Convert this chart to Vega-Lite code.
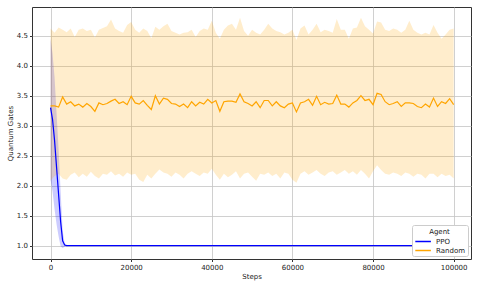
{
  "$schema": "https://vega.github.io/schema/vega-lite/v6.json",
  "autosize": "none",
  "width": 439,
  "height": 252,
  "padding": {"left": 32, "top": 7, "right": 7, "bottom": 28},
  "background": "white",
  "config": {
    "font": "DejaVu Sans",
    "view": {"stroke": "#333333", "strokeWidth": 1},
    "axis": {
      "domain": false,
      "grid": true,
      "gridColor": "#c4c4c4",
      "gridWidth": 0.8,
      "tickColor": "#333333",
      "tickSize": 2.5,
      "labelFont": "DejaVu Sans",
      "labelFontSize": 7,
      "labelColor": "#222222",
      "labelPadding": 2,
      "titleFont": "DejaVu Sans",
      "titleFontSize": 7,
      "titleFontWeight": "normal",
      "titleColor": "#222222"
    },
    "legend": {
      "labelFont": "DejaVu Sans", "labelFontSize": 7, "labelColor": "#222222",
      "titleFont": "DejaVu Sans", "titleFontSize": 7, "titleFontWeight": "normal", "titleColor": "#222222"
    }
  },
  "datasets": {
    "ppo": [
      {"Agent": "PPO", "step": 0, "mean": 3.3, "lo": 2.1, "hi": 4.45},
      {"Agent": "PPO", "step": 500, "mean": 3.1, "lo": 1.9, "hi": 4.2},
      {"Agent": "PPO", "step": 1000, "mean": 2.75, "lo": 1.6, "hi": 3.8},
      {"Agent": "PPO", "step": 1500, "mean": 2.3, "lo": 1.35, "hi": 3.2},
      {"Agent": "PPO", "step": 2000, "mean": 1.85, "lo": 1.15, "hi": 2.6},
      {"Agent": "PPO", "step": 2500, "mean": 1.4, "lo": 0.99, "hi": 1.9},
      {"Agent": "PPO", "step": 3000, "mean": 1.08, "lo": 0.96, "hi": 1.25},
      {"Agent": "PPO", "step": 3500, "mean": 1.01, "lo": 0.98, "hi": 1.04},
      {"Agent": "PPO", "step": 4000, "mean": 1.0, "lo": 0.99, "hi": 1.01},
      {"Agent": "PPO", "step": 5000, "mean": 1.0, "lo": 1.0, "hi": 1.0},
      {"Agent": "PPO", "step": 10000, "mean": 1.0, "lo": 1.0, "hi": 1.0},
      {"Agent": "PPO", "step": 20000, "mean": 1.0, "lo": 1.0, "hi": 1.0},
      {"Agent": "PPO", "step": 30000, "mean": 1.0, "lo": 1.0, "hi": 1.0},
      {"Agent": "PPO", "step": 40000, "mean": 1.0, "lo": 1.0, "hi": 1.0},
      {"Agent": "PPO", "step": 50000, "mean": 1.0, "lo": 1.0, "hi": 1.0},
      {"Agent": "PPO", "step": 60000, "mean": 1.0, "lo": 1.0, "hi": 1.0},
      {"Agent": "PPO", "step": 70000, "mean": 1.0, "lo": 1.0, "hi": 1.0},
      {"Agent": "PPO", "step": 80000, "mean": 1.0, "lo": 1.0, "hi": 1.0},
      {"Agent": "PPO", "step": 90000, "mean": 1.0, "lo": 1.0, "hi": 1.0},
      {"Agent": "PPO", "step": 100000, "mean": 1.0, "lo": 1.0, "hi": 1.0}
    ],
    "rnd": [
      {"Agent": "Random", "step": 0, "mean": 3.33, "lo": 2.08, "hi": 4.62},
      {"Agent": "Random", "step": 1000, "mean": 3.33, "lo": 2.16, "hi": 4.55},
      {"Agent": "Random", "step": 2000, "mean": 3.31, "lo": 2.2, "hi": 4.64},
      {"Agent": "Random", "step": 3000, "mean": 3.48, "lo": 2.12, "hi": 4.6},
      {"Agent": "Random", "step": 4000, "mean": 3.36, "lo": 2.1, "hi": 4.56},
      {"Agent": "Random", "step": 5000, "mean": 3.4, "lo": 2.18, "hi": 4.62},
      {"Agent": "Random", "step": 6000, "mean": 3.33, "lo": 2.22, "hi": 4.48},
      {"Agent": "Random", "step": 7000, "mean": 3.36, "lo": 2.14, "hi": 4.6},
      {"Agent": "Random", "step": 8000, "mean": 3.31, "lo": 2.2, "hi": 4.62},
      {"Agent": "Random", "step": 9000, "mean": 3.37, "lo": 2.15, "hi": 4.58},
      {"Agent": "Random", "step": 10000, "mean": 3.32, "lo": 2.23, "hi": 4.6},
      {"Agent": "Random", "step": 11000, "mean": 3.24, "lo": 2.16, "hi": 4.47},
      {"Agent": "Random", "step": 12000, "mean": 3.38, "lo": 2.12, "hi": 4.6},
      {"Agent": "Random", "step": 13000, "mean": 3.35, "lo": 2.2, "hi": 4.63},
      {"Agent": "Random", "step": 14000, "mean": 3.37, "lo": 2.18, "hi": 4.66},
      {"Agent": "Random", "step": 15000, "mean": 3.41, "lo": 2.24, "hi": 4.77},
      {"Agent": "Random", "step": 16000, "mean": 3.44, "lo": 2.17, "hi": 4.62},
      {"Agent": "Random", "step": 17000, "mean": 3.37, "lo": 2.2, "hi": 4.58},
      {"Agent": "Random", "step": 18000, "mean": 3.4, "lo": 2.15, "hi": 4.55},
      {"Agent": "Random", "step": 19000, "mean": 3.35, "lo": 2.22, "hi": 4.68},
      {"Agent": "Random", "step": 20000, "mean": 3.49, "lo": 2.18, "hi": 4.73},
      {"Agent": "Random", "step": 21000, "mean": 3.38, "lo": 2.2, "hi": 4.6},
      {"Agent": "Random", "step": 22000, "mean": 3.36, "lo": 2.1, "hi": 4.55},
      {"Agent": "Random", "step": 23000, "mean": 3.42, "lo": 2.06, "hi": 4.62},
      {"Agent": "Random", "step": 24000, "mean": 3.34, "lo": 2.18, "hi": 4.58},
      {"Agent": "Random", "step": 25000, "mean": 3.27, "lo": 2.12, "hi": 4.46},
      {"Agent": "Random", "step": 26000, "mean": 3.5, "lo": 2.2, "hi": 4.65},
      {"Agent": "Random", "step": 27000, "mean": 3.36, "lo": 2.27, "hi": 4.6},
      {"Agent": "Random", "step": 28000, "mean": 3.46, "lo": 2.22, "hi": 4.66},
      {"Agent": "Random", "step": 29000, "mean": 3.44, "lo": 2.2, "hi": 4.7},
      {"Agent": "Random", "step": 30000, "mean": 3.37, "lo": 2.15, "hi": 4.58},
      {"Agent": "Random", "step": 31000, "mean": 3.36, "lo": 2.22, "hi": 4.55},
      {"Agent": "Random", "step": 32000, "mean": 3.32, "lo": 2.18, "hi": 4.52},
      {"Agent": "Random", "step": 33000, "mean": 3.36, "lo": 2.12, "hi": 4.55},
      {"Agent": "Random", "step": 34000, "mean": 3.3, "lo": 2.2, "hi": 4.56},
      {"Agent": "Random", "step": 35000, "mean": 3.4, "lo": 2.24, "hi": 4.6},
      {"Agent": "Random", "step": 36000, "mean": 3.33, "lo": 2.2, "hi": 4.48},
      {"Agent": "Random", "step": 37000, "mean": 3.39, "lo": 2.16, "hi": 4.58},
      {"Agent": "Random", "step": 38000, "mean": 3.36, "lo": 2.22, "hi": 4.62},
      {"Agent": "Random", "step": 39000, "mean": 3.44, "lo": 2.2, "hi": 4.6},
      {"Agent": "Random", "step": 40000, "mean": 3.38, "lo": 2.28, "hi": 4.75},
      {"Agent": "Random", "step": 41000, "mean": 3.42, "lo": 2.18, "hi": 4.55},
      {"Agent": "Random", "step": 42000, "mean": 3.24, "lo": 2.1, "hi": 4.45},
      {"Agent": "Random", "step": 43000, "mean": 3.4, "lo": 2.2, "hi": 4.6},
      {"Agent": "Random", "step": 44000, "mean": 3.41, "lo": 2.14, "hi": 4.67},
      {"Agent": "Random", "step": 45000, "mean": 3.41, "lo": 2.18, "hi": 4.7},
      {"Agent": "Random", "step": 46000, "mean": 3.39, "lo": 2.24, "hi": 4.6},
      {"Agent": "Random", "step": 47000, "mean": 3.53, "lo": 2.12, "hi": 4.8},
      {"Agent": "Random", "step": 48000, "mean": 3.4, "lo": 2.2, "hi": 4.58},
      {"Agent": "Random", "step": 49000, "mean": 3.37, "lo": 2.22, "hi": 4.5},
      {"Agent": "Random", "step": 50000, "mean": 3.33, "lo": 2.15, "hi": 4.6},
      {"Agent": "Random", "step": 51000, "mean": 3.4, "lo": 2.08, "hi": 4.55},
      {"Agent": "Random", "step": 52000, "mean": 3.3, "lo": 2.2, "hi": 4.52},
      {"Agent": "Random", "step": 53000, "mean": 3.42, "lo": 2.18, "hi": 4.6},
      {"Agent": "Random", "step": 54000, "mean": 3.42, "lo": 2.22, "hi": 4.7},
      {"Agent": "Random", "step": 55000, "mean": 3.33, "lo": 2.16, "hi": 4.62},
      {"Agent": "Random", "step": 56000, "mean": 3.4, "lo": 2.2, "hi": 4.58},
      {"Agent": "Random", "step": 57000, "mean": 3.33, "lo": 2.12, "hi": 4.56},
      {"Agent": "Random", "step": 58000, "mean": 3.3, "lo": 2.22, "hi": 4.52},
      {"Agent": "Random", "step": 59000, "mean": 3.36, "lo": 2.2, "hi": 4.55},
      {"Agent": "Random", "step": 60000, "mean": 3.38, "lo": 2.1, "hi": 4.6},
      {"Agent": "Random", "step": 61000, "mean": 3.23, "lo": 2.05, "hi": 4.43},
      {"Agent": "Random", "step": 62000, "mean": 3.38, "lo": 2.2, "hi": 4.62},
      {"Agent": "Random", "step": 63000, "mean": 3.4, "lo": 2.24, "hi": 4.67},
      {"Agent": "Random", "step": 64000, "mean": 3.44, "lo": 2.18, "hi": 4.52},
      {"Agent": "Random", "step": 65000, "mean": 3.34, "lo": 2.22, "hi": 4.6},
      {"Agent": "Random", "step": 66000, "mean": 3.49, "lo": 2.26, "hi": 4.7},
      {"Agent": "Random", "step": 67000, "mean": 3.35, "lo": 2.2, "hi": 4.56},
      {"Agent": "Random", "step": 68000, "mean": 3.39, "lo": 2.16, "hi": 4.6},
      {"Agent": "Random", "step": 69000, "mean": 3.36, "lo": 2.22, "hi": 4.58},
      {"Agent": "Random", "step": 70000, "mean": 3.37, "lo": 2.24, "hi": 4.55},
      {"Agent": "Random", "step": 71000, "mean": 3.51, "lo": 2.18, "hi": 4.78},
      {"Agent": "Random", "step": 72000, "mean": 3.36, "lo": 2.22, "hi": 4.6},
      {"Agent": "Random", "step": 73000, "mean": 3.36, "lo": 2.26, "hi": 4.6},
      {"Agent": "Random", "step": 74000, "mean": 3.31, "lo": 2.2, "hi": 4.45},
      {"Agent": "Random", "step": 75000, "mean": 3.38, "lo": 2.24, "hi": 4.62},
      {"Agent": "Random", "step": 76000, "mean": 3.42, "lo": 2.18, "hi": 4.64},
      {"Agent": "Random", "step": 77000, "mean": 3.5, "lo": 2.26, "hi": 4.8},
      {"Agent": "Random", "step": 78000, "mean": 3.42, "lo": 2.2, "hi": 4.66},
      {"Agent": "Random", "step": 79000, "mean": 3.44, "lo": 2.12, "hi": 4.6},
      {"Agent": "Random", "step": 80000, "mean": 3.35, "lo": 2.24, "hi": 4.54},
      {"Agent": "Random", "step": 81000, "mean": 3.54, "lo": 2.34, "hi": 4.74},
      {"Agent": "Random", "step": 82000, "mean": 3.52, "lo": 2.26, "hi": 4.72},
      {"Agent": "Random", "step": 83000, "mean": 3.4, "lo": 2.2, "hi": 4.6},
      {"Agent": "Random", "step": 84000, "mean": 3.35, "lo": 2.18, "hi": 4.58},
      {"Agent": "Random", "step": 85000, "mean": 3.37, "lo": 2.22, "hi": 4.62},
      {"Agent": "Random", "step": 86000, "mean": 3.4, "lo": 2.2, "hi": 4.6},
      {"Agent": "Random", "step": 87000, "mean": 3.32, "lo": 2.16, "hi": 4.55},
      {"Agent": "Random", "step": 88000, "mean": 3.38, "lo": 2.22, "hi": 4.6},
      {"Agent": "Random", "step": 89000, "mean": 3.38, "lo": 2.2, "hi": 4.75},
      {"Agent": "Random", "step": 90000, "mean": 3.37, "lo": 2.15, "hi": 4.6},
      {"Agent": "Random", "step": 91000, "mean": 3.32, "lo": 2.2, "hi": 4.55},
      {"Agent": "Random", "step": 92000, "mean": 3.3, "lo": 2.18, "hi": 4.52},
      {"Agent": "Random", "step": 93000, "mean": 3.36, "lo": 2.12, "hi": 4.55},
      {"Agent": "Random", "step": 94000, "mean": 3.31, "lo": 2.2, "hi": 4.52},
      {"Agent": "Random", "step": 95000, "mean": 3.46, "lo": 2.2, "hi": 4.68},
      {"Agent": "Random", "step": 96000, "mean": 3.32, "lo": 2.14, "hi": 4.55},
      {"Agent": "Random", "step": 97000, "mean": 3.4, "lo": 2.2, "hi": 4.45},
      {"Agent": "Random", "step": 98000, "mean": 3.37, "lo": 2.16, "hi": 4.52},
      {"Agent": "Random", "step": 99000, "mean": 3.45, "lo": 2.18, "hi": 4.6},
      {"Agent": "Random", "step": 100000, "mean": 3.35, "lo": 2.12, "hi": 4.62}
    ]
  },
  "encoding": {
    "x": {
      "field": "step", "type": "quantitative", "title": "Steps",
      "scale": {"domain": [-4600, 104300], "nice": false, "zero": false},
      "axis": {"values": [0, 20000, 40000, 60000, 80000, 100000], "format": "d", "titlePadding": 2}
    },
    "y": {
      "field": "mean", "type": "quantitative", "title": "Quantum Gates",
      "scale": {"domain": [0.776, 4.98], "nice": false, "zero": false},
      "axis": {"values": [1, 1.5, 2, 2.5, 3, 3.5, 4, 4.5], "format": ".1f", "titlePadding": 3}
    }
  },
  "resolve": {"scale": {"fill": "independent", "color": "independent"}, "legend": {"fill": "independent", "color": "independent"}},
  "layer": [
    {
      "data": {"name": "ppo"},
      "mark": {"type": "area", "opacity": 0.2, "fill": "#0000ff"},
      "encoding": {
        "y": {"field": "lo", "type": "quantitative"},
        "y2": {"field": "hi"}
      }
    },
    {
      "data": {"name": "rnd"},
      "mark": {"type": "area", "opacity": 0.2, "fill": "#ffa500"},
      "encoding": {
        "y": {"field": "lo", "type": "quantitative"},
        "y2": {"field": "hi"}
      }
    },
    {
      "layer": [
        {"data": {"name": "ppo"}, "mark": {"type": "line", "strokeWidth": 1.2}, "encoding": {}},
        {"data": {"name": "rnd"}, "mark": {"type": "line", "strokeWidth": 1.2}, "encoding": {}}
      ],
      "encoding": {
        "color": {"field": "Agent", "type": "nominal",
          "scale": {"domain": ["PPO", "Random"], "range": ["#0000ff", "#ffa500"]},
          "legend": {
            "title": "Agent", "orient": "bottom-right", "offset": 3,
            "symbolType": "M-1,0H2", "symbolSize": 108, "symbolStrokeWidth": 1.5,
            "symbolFillColor": "transparent",
            "titleAnchor": "middle", "titleAlign": "center", "titlePadding": 1,
            "rowPadding": 0, "labelOffset": 9.6,
            "fillColor": "white", "strokeColor": "#cccccc", "cornerRadius": 2, "padding": 2.5
          }
        }
      }
    }
  ]
}
